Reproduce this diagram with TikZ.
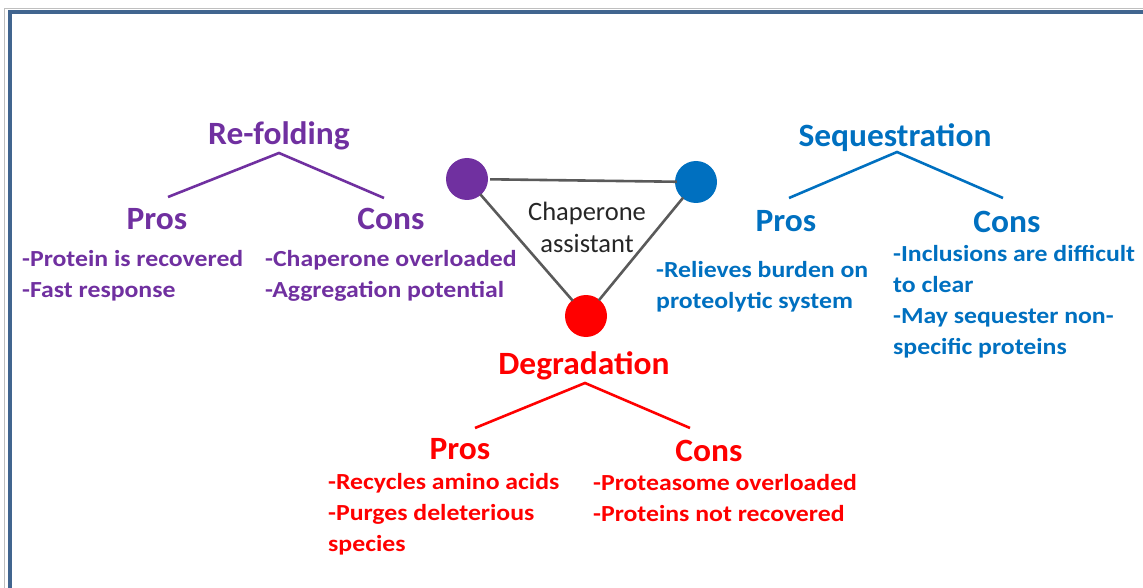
\documentclass[tikz,border=0pt]{standalone}
\usepackage{fontspec}
\setmainfont{Carlito}
\newfontfamily\bodyfont[FakeStretch=1.12]{Carlito}
\newfontfamily\headfont[FakeStretch=1.03]{Carlito}
\definecolor{cpurple}{HTML}{7030A0}
\definecolor{cblue}{HTML}{0070C0}
\definecolor{cred}{HTML}{FF0000}
\definecolor{cframe}{HTML}{41658F}
\definecolor{cline}{HTML}{5A5A5A}
\begin{document}
\begin{tikzpicture}[x=1pt,y=-1pt,
  head/.style={font=\headfont\bfseries\fontsize{32.5}{36}\selectfont, inner sep=0pt, anchor=center},
  body/.style={font=\bodyfont\bfseries\fontsize{23}{31}\selectfont, inner sep=0pt, anchor=west, align=left},
  dot/.style={circle, minimum size=42pt, inner sep=0pt},
  branch/.style={line width=2.6pt},
  tri/.style={line width=2.6pt, cline}]
\useasboundingbox (0,0) rectangle (1143,588);
% frame
\draw[line width=1pt, color=gray!50] (4.5,588) -- (4.5,9) -- (1143,9);
\draw[line width=4.5pt, cframe] (10,588) -- (10,12.2) -- (1143,12.2);

% circles
\node[dot, fill=cpurple] (cp) at (467,179) {};
\node[dot, fill=cblue] (cb) at (696,182) {};
\node[dot, fill=cred] (cr) at (586,316) {};
\draw[tri, shorten <=2pt, shorten >=-2pt] (cp) -- (cb);
\draw[tri, shorten <=-1pt, shorten >=-1pt] (cp) -- (cr);
\draw[tri, shorten <=-1pt, shorten >=-1pt] (cb) -- (cr);
\node[font=\fontsize{26.5}{32}\selectfont, color=black!85, align=center, inner sep=0pt] (chap) at (587,227) {Chaperone\\assistant};

% Re-folding
\node[head, cpurple] (rf) at (279,136) {Re-folding};
\coordinate (rfa) at (279,153);
\node[head, cpurple] (rfp) at (157,219) {Pros};
\node[head, cpurple] (rfc) at (391,219) {Cons};
\coordinate (rfl) at (168,197);
\coordinate (rfr) at (384,198);
\draw[branch, cpurple] (rfl) -- (rfa) -- (rfr);
\node[body, cpurple] (rfpt) at (22,276) {-Protein is recovered\\-Fast response};
\node[body, cpurple] (rfct) at (265,276) {-Chaperone overloaded\\-Aggregation potential};

% Sequestration
\node[head, cblue] (sq) at (895,138) {Sequestration};
\coordinate (sqa) at (897,152);
\coordinate (sql) at (789,198);
\coordinate (sqr) at (1003,198);
\draw[branch, cblue] (sql) -- (sqa) -- (sqr);
\node[head, cblue] (sqp) at (786,221) {Pros};
\node[head, cblue] (sqc) at (1007,222) {Cons};
\node[body, cblue] (sqpt) at (656,287) {-Relieves burden on\\proteolytic system};
\node[body, cblue] (sqct) at (893,302) {-Inclusions are difficult\\to clear\\-May sequester non-\\specific proteins};

% Degradation
\node[head, cred] (dg) at (584,366) {Degradation};
\coordinate (dga) at (585,383);
\coordinate (dgl) at (475,428);
\coordinate (dgr) at (690,428);
\draw[branch, cred] (dgl) -- (dga) -- (dgr);
\node[head, cred] (dgp) at (460,449) {Pros};
\node[head, cred] (dgc) at (709,451) {Cons};
\node[body, cred] (dgpt) at (328,514) {-Recycles amino acids\\-Purges deleterious\\species};
\node[body, cred] (dgct) at (593,498) {-Proteasome overloaded\\-Proteins not recovered};
\end{tikzpicture}
\end{document}
